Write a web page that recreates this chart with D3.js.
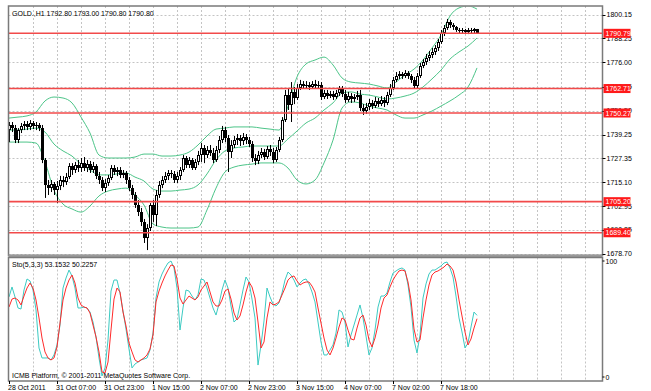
<!DOCTYPE html>
<html><head><meta charset="utf-8">
<script src="https://cdn.jsdelivr.net/npm/d3@7"></script>
<style>
html,body{margin:0;padding:0;background:#fff;}
svg{display:block;font-family:"Liberation Sans",Arial,sans-serif;}
</style></head><body>
<svg id="c" width="651" height="391"></svg>
<script>
// ---------- DATA ----------
const header = "GOLD.,H1  1792.80 1793.00 1790.80 1790.80";
const stoHeader = "Sto(5,3,3) 53.1532 50.2257";
const footer = "ICMB Platform, \u00A9 2001-2011 MetaQuotes Software Corp.";

const opens = [1741.6,1744.2,1742.6,1736.5,1741.6,1743.7,1744.7,1743.2,1745.2,1743.7,
1744.2,1742.6,1726.4,1713.7,1712.1,1714.2,1711.1,1713.2,1716.2,1715.2,
1717.7,1723.3,1721.3,1723.8,1722.3,1724.8,1722.3,1724.3,1721.3,1723.3,
1718.2,1716.2,1712.1,1714.7,1717.2,1722.3,1720.3,1721.3,1718.8,1719.8,
1716.2,1712.1,1708.6,1703.5,1699.9,1694.9,1686.7,1691.8,1703.5,1698.4,
1708.6,1713.7,1716.2,1718.2,1719.8,1719.3,1716.2,1718.2,1721.3,1727.4,
1723.8,1726.4,1722.3,1725.4,1728.9,1732.5,1728.9,1731.5,1729.9,1726.4,
1731.5,1736.5,1741.6,1737.6,1730.4,1734.0,1736.5,1737.6,1736.0,1738.1,
1736.5,1734.5,1727.4,1725.9,1728.9,1730.4,1727.9,1732.0,1730.4,1726.4,
1731.5,1736.5,1746.7,1759.4,1754.3,1760.9,1757.9,1763.0,1765.0,1764.0,
1764.5,1763.5,1765.0,1764.0,1764.5,1758.4,1760.4,1758.9,1759.9,1758.4,
1760.4,1762.5,1759.9,1756.9,1758.9,1757.4,1758.4,1759.4,1752.8,1751.3,
1753.3,1755.4,1753.8,1756.4,1754.8,1756.9,1755.4,1759.4,1763.0,1767.1,
1769.1,1770.1,1769.1,1770.6,1769.1,1767.1,1764.0,1769.1,1774.2,1776.2,
1778.2,1779.8,1781.3,1783.3,1786.4,1790.9,1793.5,1796.5,1795.0,1794.0,
1792.5,1792.0,1792.5,1791.5,1792.5,1792.0,1792.8];
const highs = [1745.7,1745.7,1744.2,1742.6,1745.2,1746.2,1746.2,1746.7,1746.2,1745.7,
1745.2,1744.2,1727.4,1716.2,1716.2,1715.2,1715.7,1718.3,1718.2,1719.8,
1724.8,1724.8,1725.4,1726.4,1727.4,1727.9,1726.4,1725.9,1725.4,1724.3,
1720.3,1717.7,1716.7,1718.8,1723.8,1723.8,1722.8,1722.8,1721.3,1720.8,
1717.7,1713.7,1710.1,1706.0,1702.0,1696.4,1693.8,1704.5,1706.0,1711.1,
1715.7,1718.2,1720.3,1721.3,1721.3,1720.8,1720.3,1722.8,1728.9,1728.4,
1727.9,1727.4,1726.9,1731.0,1735.0,1734.0,1733.5,1734.0,1732.5,1733.5,
1738.6,1743.7,1743.2,1739.1,1736.5,1738.6,1739.6,1739.1,1740.1,1739.6,
1738.1,1736.0,1729.4,1731.0,1732.5,1732.0,1733.5,1734.0,1732.5,1733.0,
1738.1,1748.2,1762.0,1763.0,1766.0,1763.5,1765.0,1767.1,1766.5,1766.5,
1766.0,1766.5,1767.1,1766.5,1766.0,1762.0,1762.0,1761.5,1761.5,1762.0,
1764.0,1764.0,1762.0,1761.0,1760.4,1759.9,1761.5,1762.0,1754.8,1755.4,
1757.4,1756.9,1758.4,1757.9,1758.9,1758.4,1761.0,1765.0,1768.6,1771.1,
1771.6,1771.1,1772.1,1771.6,1770.1,1768.6,1770.6,1775.7,1777.7,1780.3,
1781.8,1783.3,1784.8,1787.9,1792.5,1795.0,1798.1,1797.6,1796.0,1794.5,
1793.5,1793.5,1793.0,1793.5,1793.5,1793.5,1793.0];
const lows = [1735.5,1740.6,1735.0,1735.0,1740.1,1741.6,1741.6,1741.6,1742.1,1741.6,
1741.1,1724.8,1707.1,1708.6,1710.1,1708.6,1704.5,1711.1,1712.6,1713.7,
1716.7,1718.8,1719.8,1720.3,1720.3,1720.8,1720.3,1719.8,1719.8,1716.7,
1714.2,1710.6,1710.1,1713.2,1716.2,1718.8,1718.2,1717.2,1717.2,1714.2,
1710.6,1706.5,1702.0,1697.9,1692.8,1684.2,1680.6,1690.3,1694.9,1692.8,
1707.1,1712.1,1714.7,1716.2,1717.2,1714.7,1714.7,1716.2,1720.3,1722.3,
1722.3,1721.3,1721.3,1723.8,1725.4,1724.8,1727.4,1728.4,1724.8,1725.4,
1729.9,1735.0,1735.5,1720.3,1727.4,1732.5,1734.0,1733.5,1734.0,1734.5,
1733.0,1725.4,1723.8,1724.3,1727.4,1726.4,1726.9,1728.4,1724.8,1725.4,
1730.4,1735.5,1745.7,1751.8,1745.7,1754.8,1756.9,1762.0,1762.5,1762.5,
1762.0,1762.5,1762.5,1763.0,1756.9,1757.4,1757.4,1757.9,1756.9,1757.4,
1758.9,1758.4,1755.4,1755.9,1755.4,1755.9,1756.9,1751.3,1749.3,1749.8,
1751.8,1752.3,1752.8,1753.3,1753.8,1753.3,1754.3,1758.4,1762.0,1766.0,
1767.6,1767.6,1768.1,1767.6,1765.5,1762.5,1763.0,1768.1,1773.1,1774.7,
1776.7,1778.2,1779.8,1781.8,1785.4,1789.4,1792.5,1793.5,1792.5,1791.5,
1790.9,1790.9,1790.4,1790.4,1790.9,1790.9,1790.8];
const closes = [1744.2,1742.6,1736.5,1741.6,1743.7,1744.7,1743.2,1745.2,1743.7,1744.2,
1742.6,1726.4,1713.7,1712.1,1714.2,1711.1,1713.2,1716.2,1715.2,1717.7,
1723.3,1721.3,1723.8,1722.3,1724.8,1722.3,1724.3,1721.3,1723.3,1718.2,
1716.2,1712.1,1714.7,1717.2,1722.3,1720.3,1721.3,1718.8,1719.8,1716.2,
1712.1,1708.6,1703.5,1699.9,1694.9,1686.7,1691.8,1703.5,1698.4,1708.6,
1713.7,1716.2,1718.2,1719.8,1719.3,1716.2,1718.2,1721.3,1727.4,1723.8,
1726.4,1722.3,1725.4,1728.9,1732.5,1728.9,1731.5,1729.9,1726.4,1731.5,
1736.5,1741.6,1737.6,1730.4,1734.0,1736.5,1737.6,1736.0,1738.1,1736.5,
1734.5,1727.4,1725.9,1728.9,1730.4,1727.9,1732.0,1730.4,1726.4,1731.5,
1736.5,1746.7,1759.4,1754.3,1760.9,1757.9,1763.0,1765.0,1764.0,1764.5,
1763.5,1765.0,1764.0,1764.5,1758.4,1760.4,1758.9,1759.9,1758.4,1760.4,
1762.5,1759.9,1756.9,1758.9,1757.4,1758.4,1759.4,1752.8,1751.3,1753.3,
1755.4,1753.8,1756.4,1754.8,1756.9,1755.4,1759.4,1763.0,1767.1,1769.1,
1770.1,1769.1,1770.6,1769.1,1767.1,1764.0,1769.1,1774.2,1776.2,1778.2,
1779.8,1781.3,1783.3,1786.4,1790.9,1793.5,1796.5,1795.0,1794.0,1792.5,
1792.0,1792.5,1791.5,1792.5,1792.0,1793.0,1790.8];

// Bollinger bands, every 3rd bar
const bandBars = [0,3,6,9,12,15,18,21,24,27,30,33,36,39,42,45,48,51,54,57,60,63,66,69,72,75,78,81,84,87,90,93,96,99,102,105,108,111,114,117,120,123,126,129,132,135,138,141,144,147,150,153,156];
const bbUpper = [1747.7,1748.2,1748.8,1750.8,1756.4,1758.4,1757.9,1755.4,1748.2,1740.1,1728.9,1727.4,1727.4,1727.4,1727.9,1729.4,1729.4,1728.4,1728.4,1728.9,1730.4,1734.0,1738.6,1742.1,1742.6,1743.2,1743.2,1743.2,1742.6,1742.1,1741.6,1753.8,1768.6,1775.2,1777.2,1778.7,1774.7,1768.1,1766.0,1765.5,1765.0,1764.0,1763.0,1766.0,1769.6,1772.6,1777.2,1783.3,1789.9,1799.6,1803.7,1804.7,1803.1];
const bbMiddle = [1741.6,1741.6,1742.1,1742.6,1740.6,1734.5,1731.0,1728.4,1724.3,1721.3,1718.8,1718.8,1719.3,1719.8,1717.7,1715.7,1711.6,1710.6,1710.6,1711.1,1711.6,1713.7,1719.3,1726.4,1731.0,1732.5,1733.0,1733.5,1733.5,1733.5,1733.5,1737.1,1741.1,1745.2,1747.7,1751.8,1755.4,1760.4,1761.0,1759.9,1759.4,1758.4,1757.4,1757.9,1758.9,1760.4,1763.5,1767.6,1772.1,1777.7,1781.3,1784.3,1788.4];
const bbLower = [1735.5,1735.5,1735.5,1735.0,1725.4,1711.1,1704.0,1701.5,1699.9,1703.0,1708.1,1710.6,1711.6,1712.1,1708.6,1703.5,1693.8,1692.3,1691.8,1691.8,1691.8,1692.3,1701.0,1712.1,1720.3,1722.8,1723.8,1724.3,1724.9,1724.9,1724.9,1722.3,1716.2,1714.2,1716.2,1724.9,1736.5,1752.8,1755.9,1755.4,1753.8,1752.8,1751.8,1749.3,1747.7,1747.7,1749.3,1751.3,1753.8,1756.4,1759.4,1763.5,1773.2];

// Stochastic (5,3,3), one value per bar
const stoMain = [69.0,77.6,69.0,59.5,58.6,75.0,84.5,82.8,75.0,57.8,
25.0,16.4,16.4,16.4,14.7,19.0,27.6,44.8,76.7,85.3,
92.2,87.1,76.7,59.5,59.5,60.3,59.5,56.0,47.4,34.5,
16.4,0.9,7.8,31.9,74.1,83.6,83.6,72.4,56.9,41.4,
24.1,7.8,11.2,12.9,14.7,15.5,16.4,23.3,37.9,68.1,
81.9,88.8,94.0,98.3,100.0,94.0,76.7,40.5,59.5,75.0,
74.1,69.8,66.4,70.7,84.5,83.6,76.7,68.1,59.5,53.4,
62.9,75.0,83.6,76.7,61.2,47.4,50.0,62.1,75.0,86.2,
81.9,67.2,50.9,10.3,27.6,48.3,76.7,69.0,62.9,61.2,
63.8,72.4,83.6,90.5,87.9,83.6,77.6,81.0,83.6,84.5,
80.2,73.3,64.7,47.4,30.2,19.0,19.0,23.3,27.6,37.9,
57.8,56.0,47.4,25.9,36.2,44.8,53.4,62.1,50.9,35.3,
19.0,25.0,40.5,60.3,69.8,69.8,72.4,81.9,89.6,91.4,
93.1,94.0,92.2,79.3,60.3,31.9,20.7,36.2,68.1,80.2,
88.8,92.2,92.2,94.0,95.7,98.3,99.1,94.0,86.2,69.8,
50.9,38.8,25.0,29.3,43.1,56.0,53.15];
const stoSignal = [60.3,67.2,68.1,66.4,62.1,69.8,76.7,81.0,76.7,66.4,
50.9,33.6,21.6,16.4,14.7,16.4,25.9,46.5,66.4,76.7,
83.6,87.9,81.0,68.1,62.1,60.3,59.5,55.2,44.8,34.5,
21.6,4.3,3.4,12.9,40.5,67.2,76.7,73.3,56.0,44.0,
29.3,21.6,14.7,12.9,14.7,16.4,19.0,24.1,36.2,64.7,
74.1,81.0,87.1,92.2,96.6,95.7,84.5,68.1,62.9,66.4,
69.8,68.1,66.4,69.0,75.0,78.4,81.9,73.3,64.7,61.2,
61.2,66.4,74.1,75.9,67.2,55.2,49.1,52.6,62.1,73.3,
81.9,77.6,68.1,47.4,25.0,30.2,50.9,64.7,62.1,62.9,
64.7,70.7,76.7,83.6,86.2,87.1,82.8,79.3,81.0,81.9,
81.9,78.4,73.3,59.5,46.5,33.6,23.3,19.0,25.0,33.6,
43.1,50.9,49.1,40.5,32.8,31.9,42.2,50.9,53.4,44.8,
31.9,25.9,33.6,44.8,59.5,68.1,70.7,77.6,83.6,87.9,
91.4,92.2,91.4,81.9,66.4,41.4,30.2,31.9,50.9,66.4,
79.3,87.9,90.5,91.4,93.1,94.8,97.4,95.7,92.2,81.9,
66.4,52.6,38.8,27.6,32.8,42.2,50.23];

const priceTicks = [1800.15,1788.25,1776.00,1763.75,1751.50,1739.25,1727.35,1715.10,1702.95,1690.85,1678.70];
const hLines = [1790.79,1762.71,1750.27,1705.20,1689.40];
const timeTickBars = [0,16,32,48,64,80,96,112,128,144];
const timeTickLabels = ["28 Oct 2011","31 Oct 07:00","31 Oct 23:00","1 Nov 15:00","2 Nov 07:00","2 Nov 23:00","3 Nov 15:00","4 Nov 07:00","7 Nov 02:00","7 Nov 18:00"];
const stoTicks = [100,0];

// ---------- LAYOUT ----------
const L = 8.5, R = 602.5, mainTop = 6, mainBot = 255.5, subTop = 257.5, subBot = 381;
const svg = d3.select("#c");
const x = d3.scaleLinear().domain([0,156]).range([9,477]);
const y = d3.scaleLinear().domain([1678.70,1800.15]).range([253.8,14.9]);
const ys = d3.scaleLinear().domain([0,100]).range([377,261]);

const defs = svg.append("defs");
defs.append("clipPath").attr("id","mc").append("rect").attr("x",L+0.5).attr("y",mainTop+0.5).attr("width",R-L-1).attr("height",mainBot-mainTop-1);
defs.append("clipPath").attr("id","sc").append("rect").attr("x",L+0.5).attr("y",subTop).attr("width",R-L-1).attr("height",subBot-subTop);

const gridColor = "#c4c4c4";
const vBars = d3.range(8, 200, 8);
// vertical grid, both windows
[[mainTop, mainBot],[subTop, subBot]].forEach(([a,b])=>{
  svg.append("g").selectAll("line").data(vBars.filter(v=>x(v)<R-2)).join("line")
    .attr("x1",d=>Math.round(x(d))+0.5).attr("x2",d=>Math.round(x(d))+0.5)
    .attr("y1",a).attr("y2",b).attr("stroke",gridColor).attr("stroke-dasharray","2,2");
});
// horizontal grid
svg.append("g").selectAll("line").data(priceTicks).join("line")
  .attr("x1",L).attr("x2",R).attr("y1",d=>Math.round(y(d))+0.5).attr("y2",d=>Math.round(y(d))+0.5)
  .attr("stroke",gridColor).attr("stroke-dasharray","2,2");

// ---------- MAIN WINDOW ----------
const gm = svg.append("g").attr("clip-path","url(#mc)");
const bbColor = "#4cc488";
[bbUpper,bbMiddle,bbLower].forEach(arr=>{
  gm.append("path").datum(bandBars.map((b,k)=>[b,arr[k]]))
    .attr("fill","none").attr("stroke",bbColor).attr("stroke-width",1)
    .attr("d", d3.line().x(d=>x(d[0])).y(d=>y(d[1])).curve(d3.curveMonotoneX));
});

const idx = d3.range(closes.length);
gm.append("g").selectAll("line").data(idx).join("line")
  .attr("x1",i=>Math.round(x(i))+0.5).attr("x2",i=>Math.round(x(i))+0.5)
  .attr("y1",i=>y(highs[i])).attr("y2",i=>y(lows[i]))
  .attr("stroke","#000").attr("stroke-width",1);
gm.append("g").selectAll("rect").data(idx).join("rect")
  .each(function(i){
    const cx = Math.round(x(i));
    const top = Math.round(y(Math.max(opens[i],closes[i])));
    const bot = Math.round(y(Math.min(opens[i],closes[i])));
    const h = Math.max(bot-top,1);
    const s = d3.select(this);
    if (closes[i] > opens[i] && h >= 3) {
      s.attr("x",cx-0.5).attr("y",top+0.5).attr("width",2).attr("height",h-1)
       .attr("fill","#fff").attr("stroke","#000").attr("stroke-width",1);
    } else {
      s.attr("x",cx-1).attr("y",top).attr("width",3).attr("height",h).attr("fill","#000");
    }
  });

// horizontal lines
const hlColor = "#f24a4a";
svg.append("g").selectAll("line").data(hLines).join("line")
  .attr("x1",L+0.5).attr("x2",R).attr("y1",d=>y(d)).attr("y2",d=>y(d))
  .attr("stroke",hlColor).attr("stroke-width",1.6);

// header text
svg.append("text").attr("x",12).attr("y",16).attr("font-size",7).attr("fill","#000").text(header);

// ---------- SUB WINDOW ----------
const gs = svg.append("g").attr("clip-path","url(#sc)");
const stoLine = d3.line().x((d,i)=>x(i)).y(d=>ys(d));
gs.append("path").datum(stoMain).attr("fill","none").attr("stroke","#3ccac2").attr("stroke-width",1).attr("d",stoLine);
gs.append("path").datum(stoSignal).attr("fill","none").attr("stroke","#ff2a2a").attr("stroke-width",1).attr("d",stoLine);
svg.append("text").attr("x",12).attr("y",267).attr("font-size",7).attr("fill","#000").text(stoHeader);
svg.append("text").attr("x",12).attr("y",378).attr("font-size",7).attr("fill","#000").text(footer);

// ---------- FRAMES ----------
const frameColor = "#7a7a7a";
svg.append("rect").attr("x",L).attr("y",mainTop).attr("width",R-L).attr("height",mainBot-mainTop)
  .attr("fill","none").attr("stroke",frameColor).attr("stroke-width",1.5);
svg.append("rect").attr("x",L).attr("y",254.5).attr("width",R-L).attr("height",3).attr("fill","#9a9a9a");
svg.append("rect").attr("x",L).attr("y",subTop).attr("width",R-L).attr("height",subBot-subTop)
  .attr("fill","none").attr("stroke",frameColor).attr("stroke-width",1.5);

// ---------- AXES ----------
const ax = svg.append("g").attr("font-size",7).attr("fill","#000");
ax.selectAll("line.pt").data(priceTicks).join("line").attr("class","pt")
  .attr("x1",R).attr("x2",R+3).attr("y1",d=>Math.round(y(d))+0.5).attr("y2",d=>Math.round(y(d))+0.5).attr("stroke","#000");
ax.selectAll("text.pt").data(priceTicks).join("text").attr("class","pt")
  .attr("x",R+4).attr("y",d=>y(d)+2.5).text(d=>d.toFixed(2));
// red price labels on top of axis labels
const hl = svg.append("g");
hl.selectAll("rect").data(hLines).join("rect")
  .attr("x",R+1).attr("y",d=>y(d)-4.5).attr("width",27).attr("height",9).attr("fill","#ff1a1a");
hl.selectAll("text").data(hLines).join("text")
  .attr("x",R+3).attr("y",d=>y(d)+2.5).attr("font-size",7).attr("fill","#fff").text(d=>d.toFixed(2));

ax.selectAll("text.st").data(stoTicks).join("text").attr("class","st")
  .attr("x",R+3).attr("y",d=>ys(d)+2.5).text(d=>d);
ax.selectAll("line.st").data(stoTicks).join("line").attr("class","st")
  .attr("x1",R).attr("x2",R+2).attr("y1",d=>ys(d)).attr("y2",d=>ys(d)).attr("stroke","#000");

ax.selectAll("line.tt").data(timeTickBars).join("line").attr("class","tt")
  .attr("x1",d=>Math.round(x(d))+0.5).attr("x2",d=>Math.round(x(d))+0.5).attr("y1",subBot).attr("y2",subBot+3).attr("stroke","#000");
ax.selectAll("text.tt").data(timeTickBars).join("text").attr("class","tt")
  .attr("x",d=>x(d)-1).attr("y",390).text((d,i)=>timeTickLabels[i]);
</script>
</body></html>
